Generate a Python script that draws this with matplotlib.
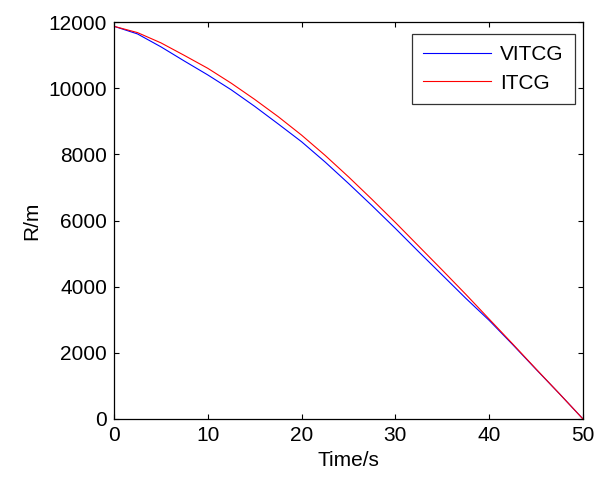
import matplotlib
matplotlib.use("Agg")
import matplotlib.pyplot as plt

time_s = [0, 2.5, 5, 7.5, 10, 12.5, 15, 17.5, 20, 22.5, 25,
          27.5, 30, 32.5, 35, 37.5, 40, 42.5, 45, 47.5, 50]
r_vitcg = [11870, 11640, 11250, 10820, 10400, 9950, 9450, 8920, 8380, 7770, 7120,
           6450, 5760, 5050, 4350, 3650, 2980, 2250, 1500, 760, 0]
r_itcg = [11870, 11680, 11370, 10990, 10600, 10150, 9660, 9140, 8580, 7970, 7320,
          6640, 5940, 5220, 4500, 3770, 3020, 2270, 1510, 760, 0]

plt.rcParams['font.family'] = ['Liberation Sans', 'DejaVu Sans']
plt.rcParams['font.size'] = 15

fig = plt.figure(figsize=(5.95, 4.78), dpi=100)
ax = fig.add_axes([114 / 595, 59 / 478, 469 / 595, 397 / 478])

ax.plot(time_s, r_vitcg, color='#0000ff', linewidth=0.8, label='VITCG')
ax.plot(time_s, r_itcg, color='#ff0000', linewidth=0.8, label='ITCG')

ax.set_xlim(0, 50)
ax.set_ylim(0, 12000)
ax.set_xticks([0, 10, 20, 30, 40, 50])
ax.set_yticks([0, 2000, 4000, 6000, 8000, 10000, 12000])
ax.tick_params(direction='in', top=True, right=True, length=3.6, width=0.8,
               labelsize=15, pad=5)
for s in ax.spines.values():
    s.set_linewidth(0.9)

ax.set_xlabel('Time/s', fontsize=15, labelpad=4)
ax.set_ylabel('R/m', fontsize=15)
ax.yaxis.set_label_coords(-0.155, 0.5)

leg = ax.legend(loc='upper right', fancybox=False, edgecolor='black',
                fontsize=15, handlelength=3.27, handletextpad=0.43,
                borderpad=0.55, labelspacing=0.45, borderaxespad=0,
                bbox_to_anchor=(0.983, 0.970))
leg.get_frame().set_linewidth(0.9)

fig.savefig('out.png', dpi=100)
